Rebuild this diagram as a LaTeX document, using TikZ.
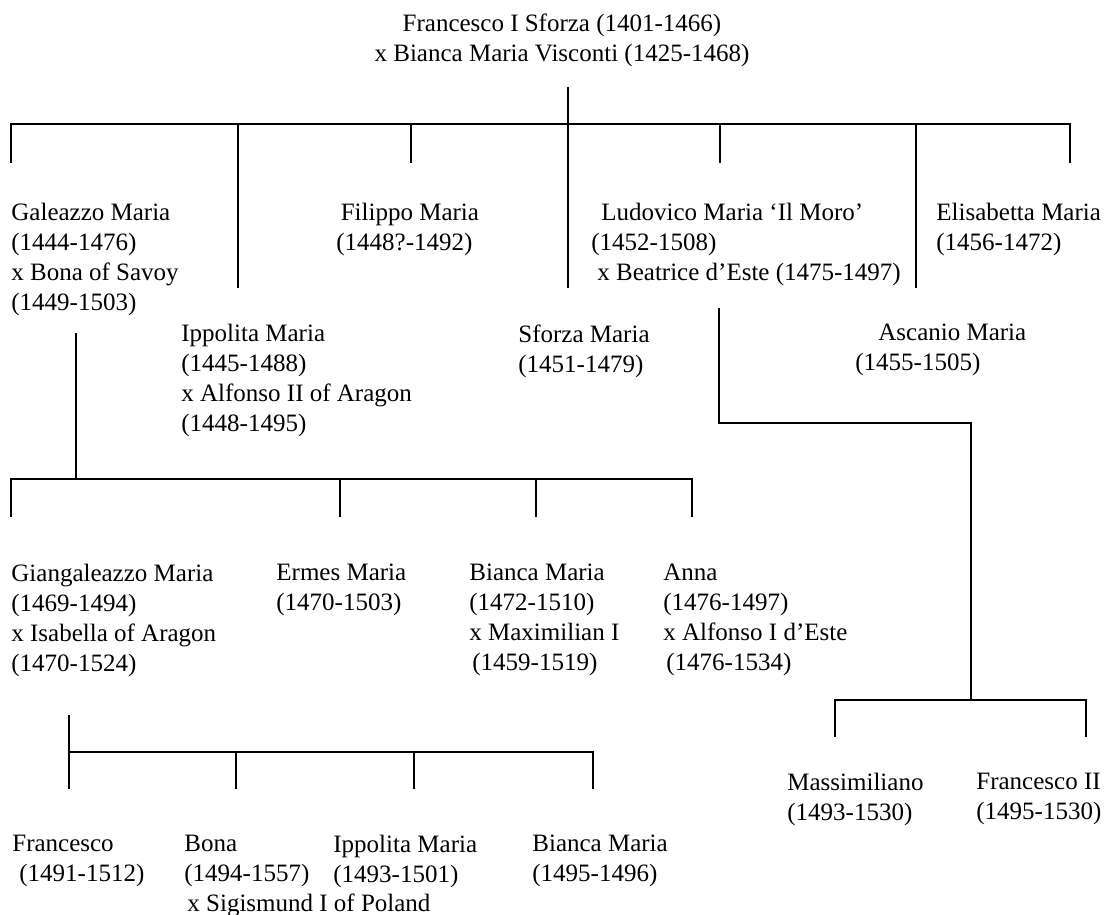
\documentclass[tikz,border=0pt]{standalone}
\usepackage{fontspec}
\setmainfont{Liberation Serif}

\begin{document}
\begin{tikzpicture}[x=0.5pt, y=-0.5pt,
		person/.style={anchor=north west, align=left, inner sep=0pt, font=\fontsize{12.5}{15}\selectfont},
		line/.style={line width=1pt},
		bar/.style={line width=1.2pt}]
	\useasboundingbox (0,0) rectangle (1110,915);

	\node[person, anchor=north, align=center] (root) at (562,13) {Francesco I Sforza (1401-1466)\\ x Bianca Maria Visconti (1425-1468)};

	\node[person] (galeazzo) at (11,203) {Galeazzo Maria\\ (1444-1476)\\ x Bona of Savoy\\ (1449-1503)};
	\node[person] (ippolita) at (181,324) {Ippolita Maria\\ (1445-1488)\\ x Alfonso II of Aragon\\ (1448-1495)};
	\node[person] (filippo) at (336,203) {\hspace*{2.2pt}Filippo Maria\\ (1448?-1492)};
	\node[person] (sforza) at (518,324) {Sforza Maria\\ (1451-1479)};
	\node[person] (ludovico) at (591,203) {\hspace*{5pt}Ludovico Maria ‘Il Moro’\\ (1452-1508)\\ \hspace*{3pt}x Beatrice d’Este (1475-1497)};
	\node[person] (ascanio) at (855,324) {\hspace*{11.5pt}Ascanio Maria\\ (1455-1505)};
	\node[person] (elisabetta) at (936,203) {Elisabetta Maria\\ (1456-1472)};

	\node[person] (giangaleazzo) at (11,564) {Giangaleazzo Maria\\ (1469-1494)\\ x Isabella of Aragon\\ (1470-1524)};
	\node[person] (ermes) at (276,564) {Ermes Maria\\ (1470-1503)};
	\node[person] (bianca) at (469,564) {Bianca Maria\\ (1472-1510)\\ x Maximilian I\\ \hspace*{1.5pt}(1459-1519)};
	\node[person] (anna) at (663,564) {Anna\\ (1476-1497)\\ x Alfonso I d’Este\\ \hspace*{1.5pt}(1476-1534)};

	\node[person] (massimiliano) at (787,773) {Massimiliano\\ (1493-1530)};
	\node[person] (francescoii) at (976,773) {Francesco II\\ (1495-1530)};

	\node[person] (francesco) at (12,835) {Francesco\\ \hspace*{3.5pt}(1491-1512)};
	\node[person] (bona) at (184,835) {Bona\\ (1494-1557)\\ \hspace*{1.5pt}x Sigismund I of Poland};
	\node[person] (ippolitab) at (333,835) {Ippolita Maria\\ (1493-1501)};
	\node[person] (biancab) at (532,835) {Bianca Maria\\ (1495-1496)};

	\coordinate (rootB) at (568,87);
	\coordinate (bar1W) at (11,124);
	\coordinate (bar1E) at (1070,124);
	\coordinate (galeazzoT) at (11,163);
	\coordinate (ippolitaT) at (238,288);
	\coordinate (filippoT) at (411,163);
	\coordinate (sforzaT) at (568,288);
	\coordinate (ludovicoT) at (720,163);
	\coordinate (ascanioT) at (916,288);
	\coordinate (elisabettaT) at (1070,163);

	\draw[line] (rootB) -- (rootB |- bar1W);
	\draw[bar] (galeazzoT) -- (bar1W) -- (bar1E) -- (elisabettaT);
	\draw[line] (ippolitaT) -- (ippolitaT |- bar1W);
	\draw[line] (filippoT) -- (filippoT |- bar1W);
	\draw[line] (sforzaT) -- (sforzaT |- bar1W);
	\draw[line] (ludovicoT) -- (ludovicoT |- bar1W);
	\draw[line] (ascanioT) -- (ascanioT |- bar1W);

	\coordinate (galeazzoB) at (76,333);
	\coordinate (bar2W) at (11,479);
	\coordinate (bar2E) at (692,479);
	\coordinate (giangaleazzoT) at (11,517);
	\coordinate (ermesT) at (340,517);
	\coordinate (biancaT) at (536,517);
	\coordinate (annaT) at (692,517);

	\draw[line] (galeazzoB) -- (galeazzoB |- bar2W);
	\draw[bar] (giangaleazzoT) -- (bar2W) -- (bar2E) -- (annaT);
	\draw[line] (ermesT) -- (ermesT |- bar2W);
	\draw[line] (biancaT) -- (biancaT |- bar2W);

	\coordinate (ludovicoB) at (719,308);
	\coordinate (ludovicoK) at (971,423);
	\coordinate (bar3W) at (835,700);
	\coordinate (bar3E) at (1086,700);
	\coordinate (massimilianoT) at (835,737);
	\coordinate (francescoiiT) at (1086,737);

	\draw[line] (ludovicoB) |- (ludovicoK) -- (ludovicoK |- bar3W);
	\draw[bar] (massimilianoT) -- (bar3W) -- (bar3E) -- (francescoiiT);

	\coordinate (giangaleazzoB) at (69,715);
	\coordinate (bar4W) at (69,752);
	\coordinate (bar4E) at (593,752);
	\coordinate (francescoT) at (69,789);
	\coordinate (bonaT) at (236,789);
	\coordinate (ippolitabT) at (414,789);
	\coordinate (biancabT) at (593,789);

	\draw[line] (giangaleazzoB) -- (francescoT);
	\draw[bar] (bar4W) -- (bar4E) -- (biancabT);
	\draw[line] (bonaT) -- (bonaT |- bar4W);
	\draw[line] (ippolitabT) -- (ippolitabT |- bar4W);
\end{tikzpicture}
\end{document}
